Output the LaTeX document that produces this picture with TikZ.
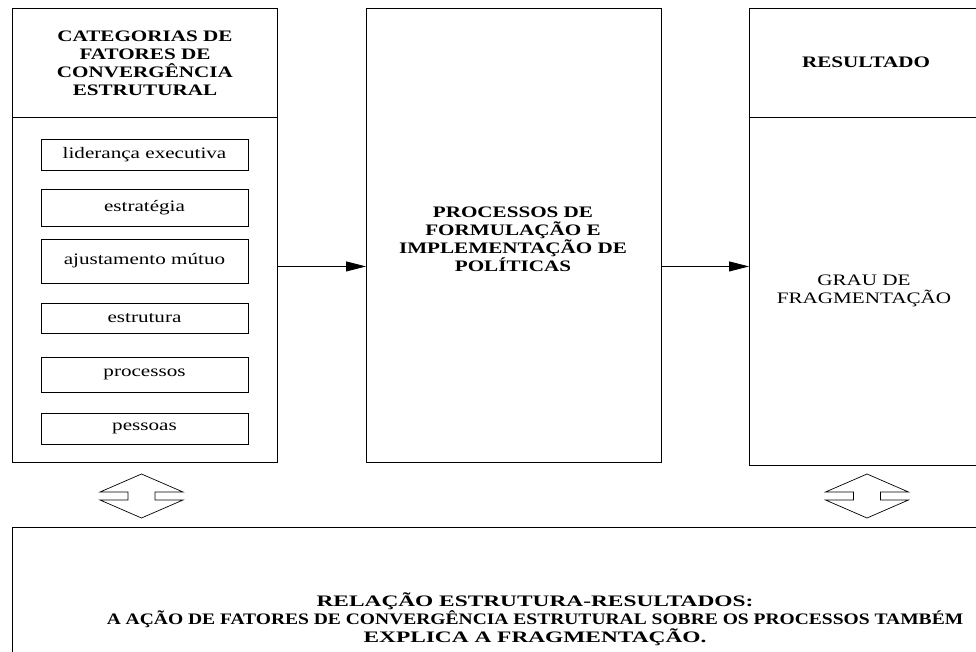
\documentclass[tikz,border=0pt]{standalone}
\usepackage{fontspec}
\setmainfont{Liberation Serif}[FakeStretch=1.32]
\newfontfamily\widefont{Liberation Serif}[FakeStretch=1.46]
\newfontfamily\narrowfont{Liberation Serif}[FakeStretch=1.22]
\usetikzlibrary{arrows.meta}
\tikzset{
  box/.style={draw=black, line width=0.9pt, inner sep=0pt},
  itembox/.style={draw=black, line width=0.9pt, minimum width=207pt, inner sep=0pt, font=\fontsize{16}{18}\selectfont},
  headtxt/.style={align=center, font=\fontsize{16}{18}\selectfont\bfseries},
  bodytxt/.style={align=center, font=\fontsize{16}{18}\selectfont},
  bottomtxt/.style={align=center, font=\fontsize{16}{16}\selectfont\bfseries},
  flow/.style={line width=0.9pt, -{Triangle[length=20pt, width=10pt]}},
  dblarrow/.pic={
    \draw[line width=0.7pt] (0,-22) -- (-41.5,-4) -- (-13.5,-4) -- (-13.5,4) -- (-41.5,4)
      -- (0,22) -- (41.5,4) -- (13.5,4) -- (13.5,-4) -- (41.5,-4) -- cycle;
  }
}
\begin{document}
\begin{tikzpicture}[x=1pt, y=-1pt]
\clip (0,0) rectangle (976,652);
\fill[white] (0,0) rectangle (976,652);
% left column
\node[box, anchor=north west, minimum width=265pt, minimum height=109pt] (cathead) at (12,8) {};
\node[box, anchor=north west, minimum width=265pt, minimum height=345pt] (catbody) at (12,117) {};
\node[headtxt] (cattxt) at (cathead.center) {CATEGORIAS DE\\FATORES DE\\CONVERGÊNCIA\\ESTRUTURAL};
\node[itembox, minimum height=31pt] (i1) at (144.5,154.5) {lideran\c{c}a executiva};
\node[itembox, minimum height=37pt] (i2) at (144.5,207.5) {estratégia};
\node[itembox, minimum height=44pt] (i3) at (144.5,261) {ajustamento mútuo};
\node[itembox, minimum height=30pt] (i4) at (144.5,318) {estrutura};
\node[itembox, minimum height=35pt] (i5) at (144.5,374.5) {processos};
\node[itembox, minimum height=31pt] (i6) at (144.5,428.5) {pessoas};
% middle column
\node[box, anchor=north west, minimum width=295pt, minimum height=454pt] (proc) at (366,8) {};
\node[headtxt] (proctxt) at (513,239) {PROCESSOS DE\\FORMULAÇÃO E\\IMPLEMENTAÇÃO DE\\POLÍTICAS};
% right column
\node[box, anchor=north west, minimum width=235pt, minimum height=109pt] (reshead) at (749,8) {};
\node[box, anchor=north west, minimum width=235pt, minimum height=348pt] (resbody) at (749,117) {};
\node[headtxt] (restxt) at (866,62) {RESULTADO};
\node[bodytxt] (graut) at (864,291) {GRAU DE\\FRAGMENTAÇÃO};
% arrows
\draw[flow] ([yshift=-31pt]catbody.east |- proc.center) -- ([yshift=-31pt]proc.west);
\draw[flow] ([yshift=-31pt]proc.east) -- ([yshift=-31pt]proc.east -| resbody.west);
% double arrows
\coordinate (dl) at (141.5,496);
\coordinate (dr) at (867,496);
\pic at (dl) {dblarrow};
\pic at (dr) {dblarrow};
% bottom box
\node[box, anchor=north west, minimum width=1050pt, minimum height=182pt] (rel) at (12,527) {};
\node[bottomtxt] (reltxt) at (535,619) {{\widefont RELAÇÃO ESTRUTURA-RESULTADOS:}\\{\narrowfont A AÇÃO DE FATORES DE CONVERGÊNCIA ESTRUTURAL SOBRE OS PROCESSOS TAMBÉM}\\{\widefont EXPLICA A FRAGMENTAÇÃO.}};
\end{tikzpicture}
\end{document}
